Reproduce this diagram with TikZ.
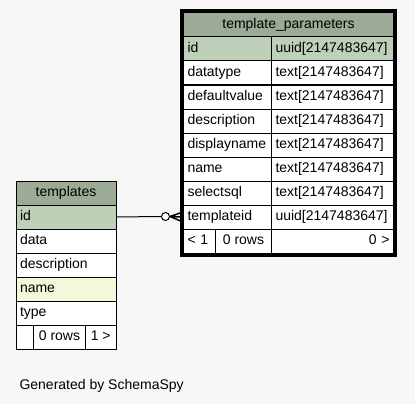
\documentclass[tikz,border=0pt]{standalone}
\usepackage{fontspec}
\setmainfont{Liberation Sans}
\usetikzlibrary{fit}

\definecolor{bgcol}{HTML}{F7F7F7}
\definecolor{hdcol}{HTML}{9BAB96}
\definecolor{pkcol}{HTML}{BED1B8}
\definecolor{idxcol}{HTML}{F4F7DA}

\tikzset{
  cell/.style={draw, line width=1pt, anchor=north west, minimum height=24pt,
    inner xsep=4pt, inner ysep=0pt, text height=10.5pt, text depth=3pt,
    font=\fontsize{14}{16}\selectfont},
  headcell/.style={cell, fill=hdcol, align=center},
  tpname/.style={cell, text width=80pt, align=left},
  tptype/.style={cell, text width=114pt, align=left},
  tname/.style={cell, text width=92pt, align=left}
}

\begin{document}
\begin{tikzpicture}[x=1pt, y=-1pt]

      \useasboundingbox (0,0) rectangle (415,404);
      \fill[bgcol] (0,0) rectangle (415,404);

      % template_parameters
      \node[headcell, minimum width=210pt] (tp) at (183,12.5) {template\_parameters};
      \foreach \nm/\ty/\cl [count=\i] in {id/uuid/pkcol,
          datatype/text/white, defaultvalue/text/white, description/text/white,
          displayname/text/white, name/text/white, selectsql/text/white,
          templateid/uuid/white} {
        \node[tpname, fill=\cl] (tp-\nm) at (183,{12.5+24*\i}) {\nm};
        \node[tptype, fill=\cl] (tp-\nm-type) at (271,{12.5+24*\i}) {\ty[2147483647]};
      }
      \node[cell, fill=white, text width=24pt, align=left] (tp-prev) at (183,228.5) {< 1};
      \node[cell, fill=white, minimum width=56pt] (tp-rows) at (215,228.5) {0 rows};
      \node[cell, fill=white, text width=114pt, align=right] (tp-next) at (271,228.5) {0 >};
      \node[draw, line width=3pt, inner sep=1.5pt, fit=(tp)(tp-next)] (tp-frame) {};

      % templates
      \node[headcell, minimum width=100pt] (t) at (15.5,180.5) {templates};
      \foreach \nm/\cl [count=\i] in {id/pkcol, data/white, description/white,
          name/idxcol, type/white}
        \node[tname, fill=\cl] (t-\nm) at (15.5,{180.5+24*\i}) {\nm};
      \node[cell, fill=white, minimum width=17.5pt] (t-prev) at (15.5,324.5) {};
      \node[cell, fill=white, minimum width=52pt] (t-rows) at (33,324.5) {0 rows};
      \node[cell, fill=white, minimum width=30.5pt] (t-next) at (85,324.5) {1 >};

      % templateid -> id
      \node[circle, draw, line width=1pt, fill=white, minimum size=8pt, inner sep=0pt] (fkdot) at (165.5,216.5) {};
      \draw[line width=1pt] (t-id.east) -- (fkdot.west);
      \draw[line width=1.5pt] (fkdot.east) -- ([yshift=5pt]tp-templateid.west)
        (fkdot.east) -- (tp-templateid.west)
        (fkdot.east) -- ([yshift=-5pt]tp-templateid.west);

      \node[anchor=base west, font=\fontsize{14}{16}\selectfont] (credit) at (16,389) {Generated by SchemaSpy};

\end{tikzpicture}
\end{document}
